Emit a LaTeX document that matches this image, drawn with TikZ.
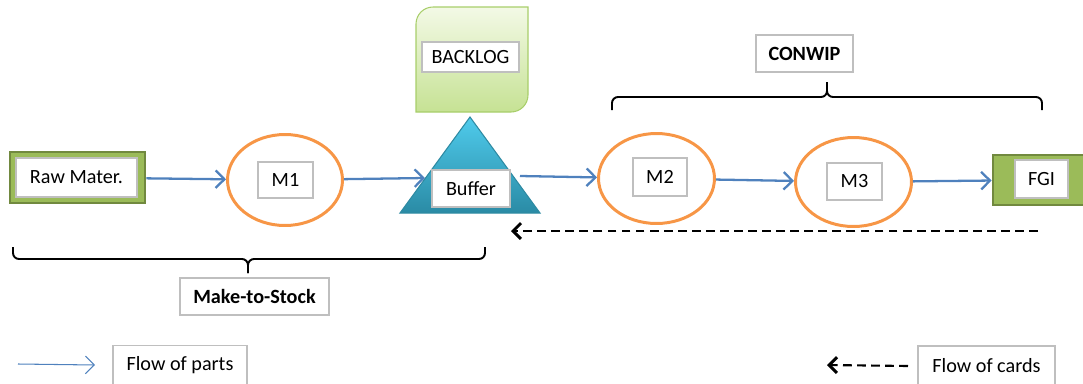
\documentclass[tikz,border=0pt]{standalone}
\usepackage{fontspec}
\setmainfont{Carlito}
\usepackage{xcolor}
\usetikzlibrary{positioning,arrows.meta,shapes.geometric}
\definecolor{partblue}{HTML}{4F81BD}
\definecolor{machorange}{HTML}{F79646}
\definecolor{stockgreen}{HTML}{9BBB59}
\definecolor{stockedge}{HTML}{71893F}
\definecolor{labelgray}{HTML}{BFBFBF}
\definecolor{buftop}{HTML}{4FCBEC}
\definecolor{bufbot}{HTML}{2A8BA5}
\definecolor{bufedge}{HTML}{2E8AA2}
\definecolor{logtop}{HTML}{F3F9E6}
\definecolor{logbot}{HTML}{C6E294}
\definecolor{logedge}{HTML}{A8CE6A}

\begin{document}
\begin{tikzpicture}[x=0.02cm,y=-0.02cm,
  every node/.style={font=\fontsize{11.5}{13}\selectfont,inner sep=0pt},
  lbl/.style={draw=labelgray,fill=white,line width=0.6pt},
  mach/.style={ellipse,draw=machorange,line width=1.7pt,minimum width=2.3cm,minimum height=1.82cm},
  store/.style={draw=stockedge,fill=stockgreen,line width=1.6pt},
  part/.style={draw=partblue,line width=1.3pt,-{Straight Barb[length=5pt,width=10pt]}},
  card/.style={draw=black,line width=1.2pt,dash pattern=on 5pt off 3pt,-{Straight Barb[length=4.5pt,width=9pt,line width=1.7pt]}},
  grp/.style={draw=black,line width=1.1pt,rounded corners=0.12cm}]
  \useasboundingbox (0,0) rectangle (1083,383);

  \coordinate (bufL) at (400,213);
  \coordinate (bufT) at (470,117);
  \coordinate (bufR) at (540,213);
  \coordinate (bufin) at (425,178);
  \coordinate (bufout) at (520,176);
  \coordinate (cardsrc) at (1038,231);
  \coordinate (cardend) at (511,231);

  \path[draw=logedge,line width=0.6pt,top color=logtop,bottom color=logbot]
    (416,112) -- (416,24) arc[start angle=180,end angle=90,radius=0.34cm]
    -- (528,7) -- (528,95) arc[start angle=0,end angle=-90,radius=0.34cm] -- cycle;
  \node[lbl,minimum width=1.94cm,minimum height=0.6cm] (backlog) at (470.5,57) {BACKLOG};

  \path[draw=bufedge,line width=0.6pt,top color=buftop,bottom color=bufbot] (bufL) -- (bufT) -- (bufR) -- cycle;
  \node[lbl,minimum width=1.56cm,minimum height=0.74cm] (buffer) at (471,188.5) {Buffer};

  \node[store,minimum width=2.7cm,minimum height=1.02cm] (rawbg) at (77.5,177.5) {};
  \node[lbl,minimum width=2.42cm,minimum height=0.78cm] (raw) at (76.5,177.5) {Raw Mater.};
  \node[mach] (m1) at (285,180) {};
  \node[lbl,minimum width=1.1cm,minimum height=0.72cm] (m1box) at (285.5,180) {M1};
  \node[mach,minimum width=2.32cm,minimum height=1.8cm] (m2) at (656.5,178.5) {};
  \node[lbl,minimum width=1.08cm,minimum height=0.76cm] (m2box) at (660,177) {M2};
  \node[mach,minimum width=2.32cm,minimum height=1.78cm] (m3) at (853.5,182) {};
  \node[lbl,minimum width=1.1cm,minimum height=0.74cm] (m3box) at (854.5,181.5) {M3};
  \node[store,minimum width=1.94cm,minimum height=1.0cm] (fgibg) at (1041.5,180) {};
  \node[lbl,minimum width=1.06cm,minimum height=0.76cm] (fgi) at (1041.5,179) {FGI};

  \draw[part] (rawbg) -- (m1);
  \draw[part] (m1) -- (bufin);
  \draw[part] (bufout) -- (m2);
  \draw[part] (m2) -- (m3);
  \draw[part] (m3) -- (fgibg);
  \draw[card] (cardsrc) -- (cardend);

  \node[lbl,minimum width=1.94cm,minimum height=0.74cm,font=\fontsize{11.5}{13}\selectfont\bfseries] (conwip) at (804.5,53.5) {CONWIP};
  \draw[grp] (612,110) -- (612,97) -- (827,97) -- (827,82);
  \draw[grp] (1042,110) -- (1042,97) -- (827,97) -- (827,82);

  \node[lbl,minimum width=2.98cm,minimum height=0.74cm,font=\fontsize{11.5}{13}\selectfont\bfseries] (mts) at (254.5,296.5) {Make-to-Stock};
  \draw[grp] (13,247) -- (13,259) -- (248,259) -- (248,273);
  \draw[grp] (485,247) -- (485,259) -- (248,259) -- (248,273);

  \node[lbl,minimum width=2.68cm,minimum height=0.78cm] (partkey) at (180,365) {Flow of parts};
  \coordinate (partsrc) at (18,364);
  \draw[part,line width=0.6pt] (partsrc) -- (partkey.west -| 95,0);
  \node[lbl,minimum width=2.74cm,minimum height=0.8cm] (cardkey) at (986.5,366) {Flow of cards};
  \coordinate (cardtip) at (827,365);
  \draw[card] (cardkey.west -| 908,0) -- (cardtip);
\end{tikzpicture}
\end{document}
